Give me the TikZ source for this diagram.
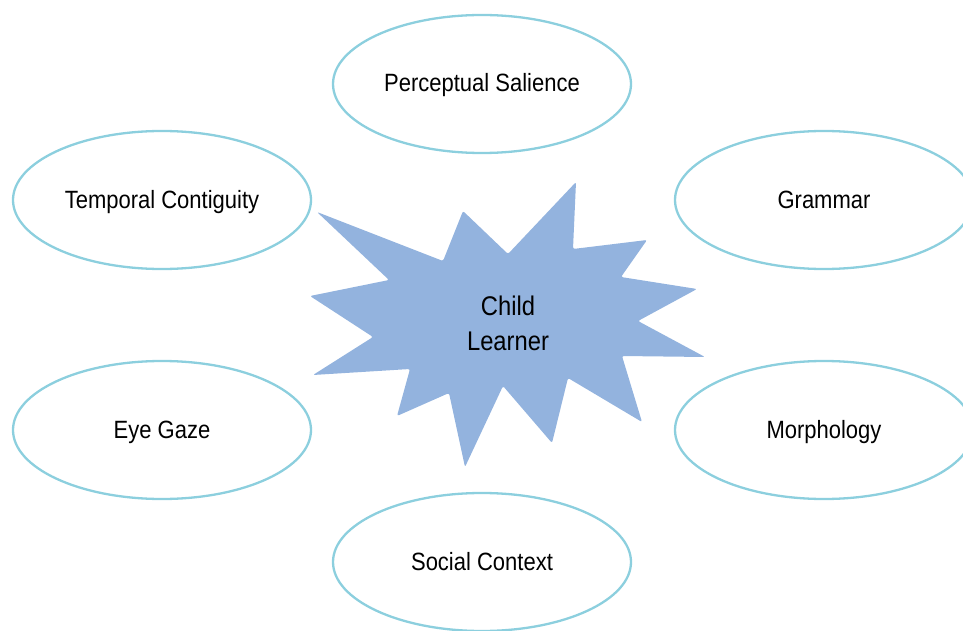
\documentclass[tikz,border=0pt]{standalone}
\usepackage{fontspec}
\setmainfont{Liberation Sans}[FakeStretch=0.88]
\usetikzlibrary{shapes.geometric}
\definecolor{ringblue}{RGB}{140,207,222}
\definecolor{starblue}{RGB}{147,179,222}
\tikzstyle{factor}=[ellipse,draw=ringblue,line width=2.3pt,fill=white,minimum width=298pt,minimum height=138pt,inner sep=0pt,text height=20pt,text depth=4pt,font=\fontsize{25}{29}\selectfont]
\tikzstyle{burst}=[fill=starblue,rounded corners=2pt]
\tikzstyle{learner}=[align=center,inner sep=0pt,font=\fontsize{27}{35}\selectfont]

\begin{document}
\begin{tikzpicture}[x=1pt,y=-1pt]
						\useasboundingbox (0,0) rectangle (963,631);
						% First we draw the factors around the child
						\foreach \pos/\name/\txt in {{(482,84)/ps/Perceptual Salience}, {(162,200)/tc/Temporal Contiguity}, {(824,200)/gr/Grammar}, {(162,430)/eg/Eye Gaze}, {(824,430)/mo/Morphology}, {(482,562)/sc/Social Context}}
						\node[factor] (\name) at \pos {\txt};

						% Then the burst in the middle
						\path[burst] plot coordinates {(317,212) (443,261) (463,211) (508,254) (576,182) (573,249) (647,240) (621,277) (697,289) (638,321) (705,357) (622,356) (642,422) (568,378) (552,443) (503,386) (465,467) (449,393) (397,416) (410,369) (313,375) (373,337) (310,296) (389,280)} -- cycle;
						\node[learner] (child) at (508,323) {Child\\Learner};
					\end{tikzpicture}
\end{document}
